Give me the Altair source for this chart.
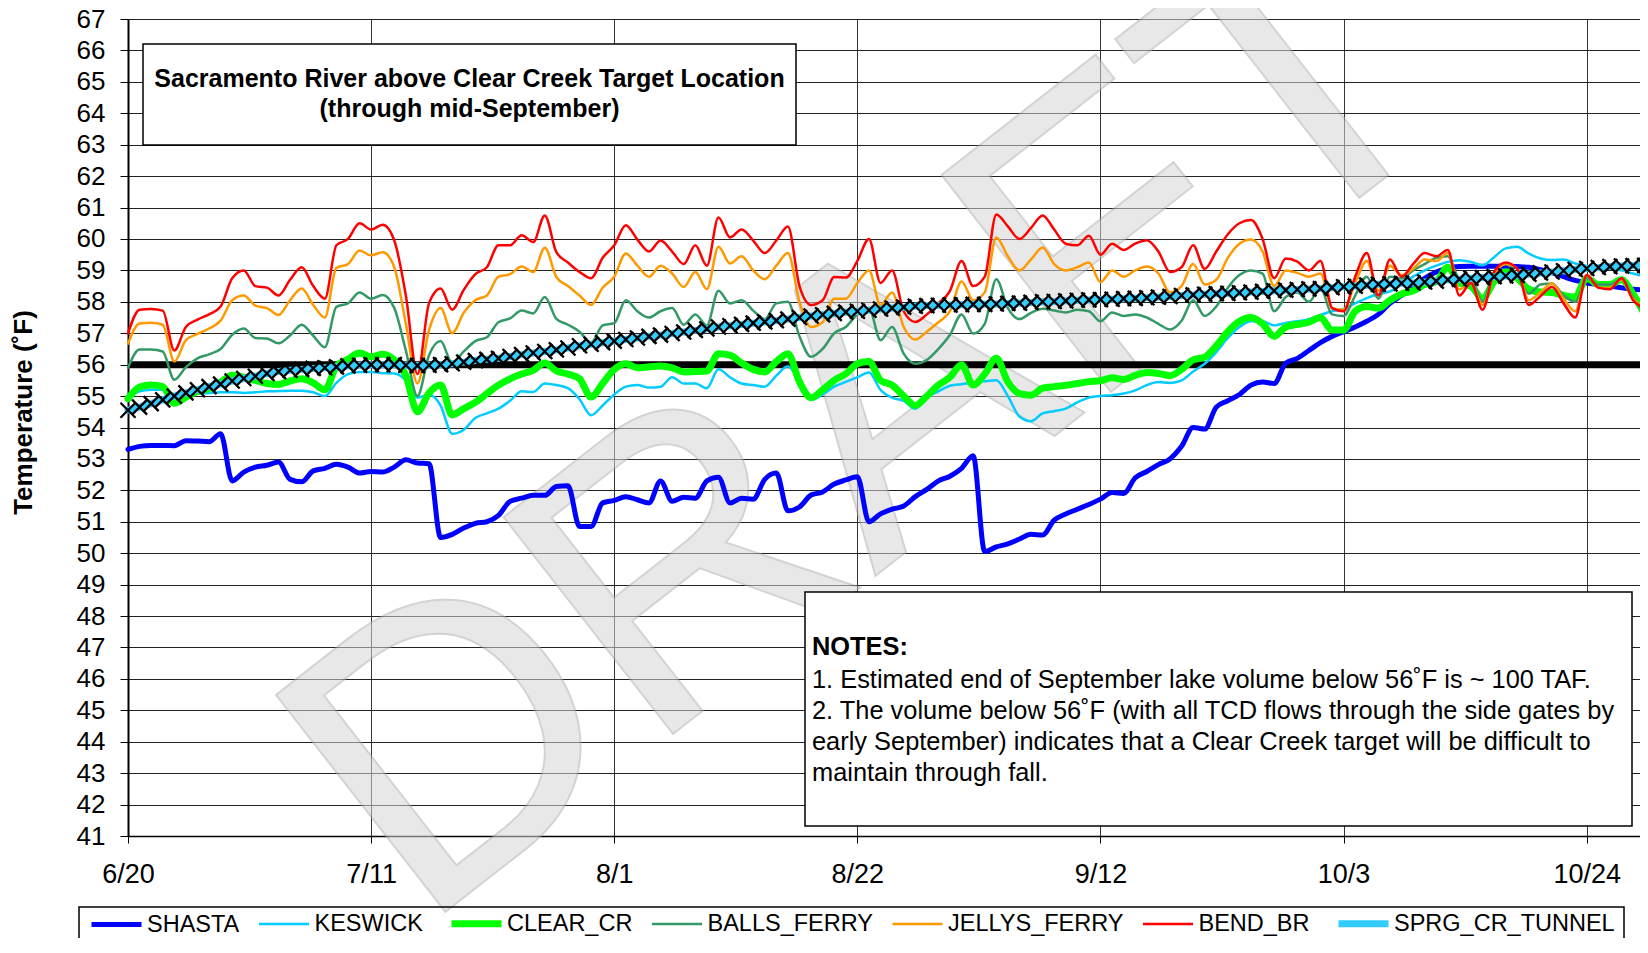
import altair as alt
import pandas as pd

FONT = "Liberation Sans"

START_DATE = "2008-06-20"
END_DATE = "2008-10-28T14:24:00"
TICK_DATES = ["2008-06-20", "2008-07-11", "2008-08-01", "2008-08-22",
              "2008-09-12", "2008-10-03", "2008-10-24"]
Y_TICKS = list(range(41, 68))
SERIES = ["SHASTA", "KESWICK", "CLEAR_CR", "BALLS_FERRY", "JELLYS_FERRY",
          "BEND_BR", "SPRG_CR_TUNNEL"]
COLORS = ["#0000FF", "#00CCFF", "#00FF00", "#339966", "#FF9900", "#FF0000", "#33CCFF"]
WIDTHS = [5, 2.5, 7, 2.5, 2.5, 2.5, 7]
TARGET = [56]

TITLE_LINES = ["Sacramento River above Clear Creek Target Location",
               "(through mid-September)"]
NOTES_HEAD = "NOTES:"
NOTES_LINES = [
    "1. Estimated end of September lake volume below 56\u02daF is ~ 100 TAF.",
    "2. The volume below 56\u02daF (with all TCD flows through the side gates by",
    "early September) indicates that a Clear Creek target will be difficult to",
    "maintain through fall.",
]
WATERMARK = "DRAFT"

SHASTA = [
    53.3, 53.4, 53.43, 53.43, 53.42, 53.58, 53.57, 53.55, 53.8, 52.3,
    52.58, 52.74, 52.8, 52.9, 52.35, 52.27, 52.62, 52.7, 52.83, 52.74,
    52.55, 52.6, 52.58, 52.74, 52.97, 52.87, 52.85, 50.5, 50.6, 50.8,
    50.95, 51.0, 51.2, 51.65, 51.75, 51.84, 51.84, 52.12, 52.15, 50.85,
    50.85, 51.6, 51.68, 51.8, 51.7, 51.6, 52.3, 51.65, 51.78, 51.75,
    52.3, 52.42, 51.6, 51.75, 51.72, 52.35, 52.55, 51.35, 51.47, 51.85,
    51.95, 52.2, 52.33, 52.43, 51.0, 51.25, 51.4, 51.5, 51.8, 52.03,
    52.3, 52.45, 52.7, 53.1, 50.05, 50.2, 50.3, 50.45, 50.6, 50.58,
    51.05, 51.25, 51.4, 51.55, 51.72, 51.93, 51.9, 52.4, 52.6, 52.82,
    53.0, 53.4, 54.0, 53.95, 54.65, 54.85, 55.05, 55.35, 55.45, 55.4,
    56.05, 56.2, 56.45, 56.7, 56.9, 57.05, 57.2, 57.38, 57.6, 57.95,
    58.2, 58.45, 58.75, 58.95, 59.07, 59.12, 59.13, 59.13, 59.13, 59.13,
    59.12, 59.1, 59.02, 58.93, 58.8, 58.68, 58.6, 58.55, 58.5, 58.45,
    58.4, 58.37]

KESWICK = [
    55.0, 55.15, 55.2, 55.2, 55.05, 55.05, 55.08, 55.1, 55.12, 55.12,
    55.1, 55.12, 55.15, 55.16, 55.17, 55.17, 55.12, 55.0, 55.42, 55.7,
    55.77, 55.77, 55.73, 55.72, 55.5, 54.95, 55.05, 54.7, 53.8, 53.93,
    54.3, 54.45, 54.6, 54.85, 55.15, 55.13, 55.4, 55.35, 55.25, 54.9,
    54.39, 54.7, 55.05, 55.3, 55.35, 55.27, 55.3, 55.6, 55.4, 55.4,
    55.25, 55.85, 55.6, 55.4, 55.35, 55.3, 55.65, 55.95, 55.45, 54.88,
    55.05, 55.3, 55.45, 55.6, 55.75, 55.2, 54.95, 54.85, 54.6, 54.95,
    55.15, 55.33, 55.38, 55.42, 55.47, 55.5, 55.0, 54.35, 54.2, 54.45,
    54.52, 54.6, 54.8, 54.95, 55.0, 55.03, 55.08, 55.18, 55.35, 55.45,
    55.42, 55.5, 55.78, 56.03, 56.4, 56.85, 57.2, 57.38, 57.38, 57.25,
    57.33, 57.38, 57.45, 57.58, 57.7, 57.77, 57.95, 58.12, 58.25, 58.33,
    58.55, 58.8, 59.0, 59.15, 59.27, 59.32, 59.27, 59.16, 59.42, 59.7,
    59.75, 59.53, 59.38, 59.33, 59.35, 59.22, 59.14, 59.1, 59.06, 59.0,
    58.9, 58.8]

CLEAR_CR = [
    54.92, 55.29, 55.35, 55.3, 54.77, 54.97, 55.15, 55.24, 55.44, 55.66,
    55.6, 55.5, 55.4, 55.37, 55.48, 55.55, 55.42, 55.2, 55.95, 56.17,
    56.37, 56.25, 56.33, 56.15, 55.65, 54.5, 55.1, 55.35, 54.4, 54.6,
    54.8, 55.08, 55.35, 55.55, 55.7, 55.82, 56.05, 55.8, 55.7, 55.55,
    54.97, 55.4, 55.85, 56.03, 55.9, 55.93, 55.96, 55.9, 55.77, 55.78,
    55.8, 56.35, 56.3, 56.05, 55.85, 55.77, 56.1, 56.35, 55.45, 54.95,
    55.2, 55.5, 55.71, 56.03, 56.1, 55.5, 55.35, 55.0, 54.7, 55.0,
    55.35, 55.6, 56.0, 55.35, 55.7, 56.2, 55.45, 55.08, 55.03, 55.25,
    55.3, 55.34, 55.4, 55.46, 55.49, 55.58, 55.53, 55.66, 55.75, 55.72,
    55.65, 55.85, 56.15, 56.24, 56.6, 57.05, 57.38, 57.5, 57.3, 56.9,
    57.2, 57.28, 57.35, 57.5, 57.1, 57.1, 57.7, 57.85, 57.8, 58.05,
    58.25, 58.35, 58.55, 58.65, 59.1, 58.6, 58.5, 58.1, 58.65, 58.95,
    58.75, 58.4, 58.31, 58.3, 58.2, 58.15, 58.75, 58.55, 58.55, 58.7,
    58.25, 57.6]

BALLS_FERRY = [
    55.9, 56.48, 56.48, 56.42, 55.52, 55.92, 56.2, 56.33, 56.5, 56.95,
    57.15, 56.85, 56.83, 56.68, 56.93, 57.27, 56.92, 56.55, 57.84, 57.95,
    58.3, 58.1, 58.22, 57.8, 56.45, 55.0, 56.3, 56.75, 56.05, 56.42,
    56.75, 56.87, 57.35, 57.47, 57.72, 57.63, 58.15, 57.46, 57.27, 57.05,
    56.7, 57.25, 57.32, 58.05, 57.7, 57.5, 57.7, 57.8, 57.27, 57.6,
    57.25, 58.35, 57.95, 58.05, 57.72, 57.45, 57.95, 58.0, 56.9, 56.25,
    56.5, 57.0, 57.2, 57.6, 57.8, 56.78, 57.2, 56.35, 56.03, 56.15,
    56.5, 56.95, 57.6, 56.99, 57.3, 58.72, 57.8, 57.45, 57.65, 57.78,
    57.72, 57.66, 57.75, 57.7, 57.38, 57.66, 57.55, 57.6, 57.5, 57.3,
    57.12, 57.4, 58.05, 57.55, 57.85, 58.45, 58.85, 59.0, 58.9, 57.7,
    58.15, 58.3, 58.0, 58.45, 57.6, 57.55, 58.2, 58.8, 58.1, 58.8,
    58.74, 59.0, 59.2, 59.4, 59.45, 58.75, 58.75, 58.0, 58.95, 59.2,
    58.85, 58.26, 58.55, 58.58, 58.2, 58.0, 58.75, 58.55, 58.55, 58.7,
    58.15, 57.6]

JELLYS_FERRY = [
    56.67, 57.31, 57.33, 57.27, 56.1, 56.78, 56.98, 57.15, 57.4, 58.05,
    58.2, 57.88, 57.8, 57.58, 58.05, 58.42, 57.9, 57.5, 59.08, 59.2,
    59.63, 59.48, 59.58, 59.1, 57.3, 55.4, 57.1, 57.8, 57.0, 57.65,
    58.05, 58.2, 58.8, 58.88, 59.12, 58.95, 59.72, 58.79, 58.5, 58.2,
    57.9, 58.45, 58.8, 59.54, 59.15, 58.8, 59.15, 58.9, 58.47, 58.95,
    58.4, 59.75, 59.22, 59.45, 59.0, 58.72, 59.15, 59.55, 58.0, 57.2,
    57.35, 58.1, 58.1, 58.6, 59.0, 57.9, 58.3, 57.2, 56.8, 57.05,
    57.35, 57.7, 58.65, 58.05, 58.3, 60.05, 59.45, 59.0, 59.35, 59.73,
    59.2, 59.0, 59.1, 59.25, 58.63, 59.0, 58.8, 59.0, 59.12, 58.9,
    58.3, 58.5, 59.2, 58.55, 58.7, 59.4, 59.85, 59.98, 59.6, 58.5,
    59.0, 58.92, 58.8, 58.9, 57.8, 57.75, 58.6, 59.3, 58.35, 59.15,
    58.85, 59.05, 59.35, 59.3, 59.55, 58.4, 58.6, 57.9, 58.85, 59.2,
    59.05, 58.05, 58.3, 58.58, 58.1, 57.7, 58.85, 58.45, 58.45, 58.7,
    58.1, 57.8]

BEND_BR = [
    56.99, 57.75, 57.77, 57.72, 56.45, 57.2, 57.43, 57.6, 57.85, 58.75,
    59.0, 58.5, 58.45, 58.2, 58.7, 59.1, 58.5, 58.1, 59.8, 60.0,
    60.5, 60.3, 60.45, 59.95, 58.2, 55.7, 57.95, 58.42, 57.75, 58.38,
    58.88, 59.1, 59.8, 59.8, 60.12, 59.9, 60.75, 59.58, 59.25, 58.95,
    58.75, 59.4, 59.8, 60.44, 59.98, 59.6, 59.95, 59.6, 59.2, 59.8,
    59.15, 60.68, 60.05, 60.3, 59.95, 59.55, 59.95, 60.4, 58.5, 57.9,
    58.05, 58.79, 58.77, 59.3, 60.0, 58.6, 59.0, 57.7, 57.36, 57.6,
    57.95, 58.35, 59.3, 58.5, 58.8, 60.78, 60.4, 60.0, 60.35, 60.75,
    60.3, 59.85, 59.8, 60.1, 59.5, 59.85, 59.65, 59.85, 59.96, 59.6,
    58.95, 59.1, 59.8, 59.05, 59.6, 60.15, 60.5, 60.6, 60.0, 58.75,
    59.38, 59.28, 59.0, 59.3, 57.8, 57.7, 58.8, 59.55, 58.2, 59.35,
    58.8, 59.2, 59.55, 59.45, 59.65, 58.2, 58.6, 57.75, 58.95, 59.25,
    59.05, 57.9, 58.18, 58.47, 57.95, 57.5, 58.85, 58.45, 58.4, 58.75,
    58.05, 57.8]

SPRG_CR_TUNNEL = [
    54.55, 54.65, 54.76, 54.88, 55.0, 55.1, 55.2, 55.3, 55.38, 55.48,
    55.56, 55.63, 55.72, 55.78, 55.82, 55.85, 55.88, 55.9, 55.93, 55.96,
    55.98, 56.0, 56.0, 56.0, 55.98, 55.97, 55.98, 56.0, 56.03, 56.08,
    56.13, 56.17, 56.2, 56.26, 56.32, 56.37, 56.42, 56.47, 56.53, 56.6,
    56.65, 56.7, 56.75, 56.8, 56.85, 56.9, 56.94, 56.99, 57.04, 57.09,
    57.14, 57.2, 57.24, 57.28, 57.32, 57.36, 57.4, 57.45, 57.5, 57.55,
    57.59, 57.63, 57.67, 57.7, 57.73, 57.77, 57.8, 57.83, 57.86, 57.88,
    57.89, 57.9, 57.91, 57.92, 57.92, 57.93, 57.95, 57.96, 57.98, 58.0,
    58.01, 58.03, 58.05, 58.06, 58.07, 58.08, 58.1, 58.11, 58.13, 58.15,
    58.17, 58.2, 58.22, 58.24, 58.26, 58.27, 58.29, 58.31, 58.33, 58.35,
    58.37, 58.39, 58.41, 58.42, 58.45, 58.48, 58.5, 58.53, 58.56, 58.57,
    58.59, 58.6, 58.63, 58.66, 58.7, 58.72, 58.75, 58.77, 58.8, 58.82,
    58.84, 58.88, 58.92, 58.95, 58.99, 59.03, 59.06, 59.09, 59.12, 59.14,
    59.15, 59.16]

VALUES = {
    "SHASTA": SHASTA, "KESWICK": KESWICK, "CLEAR_CR": CLEAR_CR,
    "BALLS_FERRY": BALLS_FERRY, "JELLYS_FERRY": JELLYS_FERRY,
    "BEND_BR": BEND_BR, "SPRG_CR_TUNNEL": SPRG_CR_TUNNEL,
}

rows = []
for name in SERIES:
    vals = VALUES[name]
    dates = pd.date_range(START_DATE, periods=len(vals), freq="D").strftime("%Y-%m-%d")
    for d, v in zip(dates, vals):
        rows.append({"date": d, "series": name, "temp": v})
df = pd.DataFrame(rows)


def dt(s):
    t = pd.Timestamp(s)
    return alt.DateTime(year=t.year, month=t.month, date=t.day,
                        hours=t.hour, minutes=t.minute, utc=True)


x_axis = alt.Axis(values=[dt(s) for s in TICK_DATES], format="%-m/%-d", title=None,
                  labelFont=FONT, labelFontSize=27, labelColor="black",
                  labelBaseline="middle", labelPadding=31, labelFlush=False,
                  labelOverlap=False, tickSize=7, tickColor="black",
                  domainColor="black", domainWidth=1.5,
                  grid=True, gridColor="#333333", gridWidth=1)
x_enc = alt.X("date:T", axis=x_axis,
              scale=alt.Scale(type="utc", domain=[dt(START_DATE), dt(END_DATE)]))

y_scale = alt.Scale(domain=[41, 67], nice=False, zero=False)
y_axis = alt.Axis(values=Y_TICKS, title="Temperature (\u02daF)",
                  titleFont=FONT, titleFontSize=26, titleFontWeight="bold",
                  titleColor="black", titleX=-105, titleY=393, titleAngle=270,
                  titleAlign="center", titleBaseline="middle",
                  labelFont=FONT, labelFontSize=26, labelColor="black",
                  labelPadding=15, labelFlush=False, labelOverlap=False,
                  tickSize=8, tickColor="black", domainColor="black", domainWidth=2,
                  grid=True, gridColor="#222222", gridWidth=1)


def y_enc(field):
    return alt.Y(field, scale=y_scale, axis=y_axis)


legend_kw = dict(title=None, orient="none", legendX=-40, legendY=876,
                 direction="horizontal", columns=7, symbolType="stroke",
                 symbolSize=2500, labelFont=FONT, labelFontSize=23.5,
                 labelColor="black", labelOffset=2, columnPadding=13.5,
                 padding=0, labelLimit=500, symbolOpacity=1)
color_enc = alt.Color("series:N", scale=alt.Scale(domain=SERIES, range=COLORS),
                      legend=alt.Legend(**legend_kw))
width_enc = alt.StrokeWidth("series:N",
                            scale=alt.Scale(type="ordinal", domain=SERIES, range=WIDTHS),
                            legend=alt.Legend(**legend_kw))

one = alt.Data(values=[{"k": 1}])

watermark = alt.Chart(one).mark_text(
    text=WATERMARK, font=FONT, fontSize=400, angle=322, align="center",
    baseline="middle", color="#d6d6d6", opacity=0.55, stroke="#b0b0b0",
    strokeWidth=2).encode(x=alt.value(743), y=alt.value(408))

target = alt.Chart(pd.DataFrame({"target": TARGET})).mark_rule(
    color="black", strokeWidth=7).encode(y=y_enc("target:Q"))

lines = []
for name in SERIES:
    lines.append(
        alt.Chart(df).transform_filter(alt.datum.series == name).mark_line(
            interpolate="monotone", strokeJoin="round", strokeCap="round"
        ).encode(x=x_enc, y=y_enc("temp:Q"), color=color_enc, strokeWidth=width_enc)
    )

markers = alt.Chart(df).transform_filter(alt.datum.series == "SPRG_CR_TUNNEL").mark_point(
    shape="M-1,-1L1,1M-1,1L1,-1", filled=False, stroke="black", strokeWidth=2.3,
    size=225, opacity=1).encode(x=x_enc, y=y_enc("temp:Q"))

title_box = alt.Chart(one).mark_rect(fill="white", stroke="black", strokeWidth=1.5).encode(
    x=alt.value(15), x2=alt.value(668), y=alt.value(25), y2=alt.value(126))
title_text = [
    alt.Chart(one).mark_text(text=t, font=FONT, fontSize=25, fontWeight="bold",
                             color="black", align="center", baseline="middle"
                             ).encode(x=alt.value(341.5), y=alt.value(yy))
    for t, yy in zip(TITLE_LINES, [59.5, 90])
]

notes_box = alt.Chart(one).mark_rect(fill="white", stroke="black", strokeWidth=1.5).encode(
    x=alt.value(677), x2=alt.value(1504), y=alt.value(573), y2=alt.value(807))
notes_text = [alt.Chart(one).mark_text(text=NOTES_HEAD, font=FONT, fontSize=25.4,
                                       fontWeight="bold", color="black", align="left",
                                       baseline="middle").encode(x=alt.value(684), y=alt.value(628))]
for t, yy in zip(NOTES_LINES, [661, 692, 723, 754]):
    notes_text.append(alt.Chart(one).mark_text(text=t, font=FONT, fontSize=25.4,
                                               color="black", align="left",
                                               baseline="middle").encode(
        x=alt.value(684), y=alt.value(yy)))

legend_box = alt.Chart(one).mark_rect(fill=None, stroke="black", strokeWidth=1.5).encode(
    x=alt.value(-49), x2=alt.value(1496), y=alt.value(888), y2=alt.value(960))

chart = alt.layer(
    watermark, target, *lines, markers, title_box, *title_text,
    notes_box, *notes_text, legend_box
).properties(
    width=1512, height=817,
    autosize=alt.AutoSizeParams(type="none"),
    padding={"left": 120, "top": 11, "right": 0, "bottom": 102},
    background="white",
).configure_view(stroke=None)

chart.save("out.html", embed_options={"renderer": "svg", "actions": False})
